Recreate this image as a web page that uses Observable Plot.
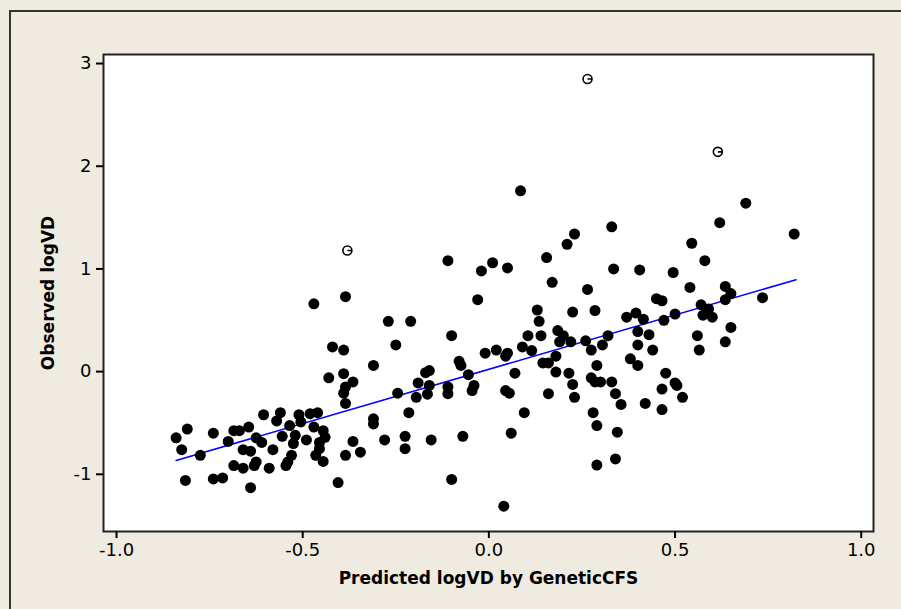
<!DOCTYPE html>
<html>
<head>
<meta charset="utf-8">
<script src="https://cdn.jsdelivr.net/npm/d3@7"></script>
<script src="https://cdn.jsdelivr.net/npm/@observablehq/plot@0.6"></script>
<style>
  html, body { margin: 0; padding: 0; background: #EFEBE1; }
  #wrap { position: relative; width: 901px; height: 609px; overflow: hidden; background: #EFEBE1; }
  #outer { position: absolute; left: 9px; top: 10px; width: 1000px; height: 1000px; border: 2px solid #333; box-sizing: border-box; }
  #chart { position: absolute; left: 0; top: 0; }
  #chart g[aria-label="x-axis label"] text,
  #chart g[aria-label="y-axis label"] text { font-weight: bold; font-size: 17px; }
</style>
</head>
<body>
<div id="wrap"><div id="outer"></div><div id="chart"></div></div>
<script>
// Predicted logVD by GeneticCFS (x) and observed logVD (y)
const predicted = [
  -0.47,-0.385,-0.27,-0.21,-0.11,-0.02,0.01,-0.03,-0.10,-0.42,-0.39,-0.25,-0.31,-0.01,0.02,-0.08,-0.075,-0.16,-0.17,-0.055,-0.43,-0.39,
  0.69,0.62,0.82,0.33,0.23,0.21,0.545,0.155,0.05,0.335,0.405,0.495,0.58,0.17,0.265,0.54,0.635,0.65,0.635,0.735,0.45,0.465,0.57,0.59,
  0.575,0.60,0.50,0.47,0.37,0.395,0.415,0.13,0.135,0.225,0.285,0.40,0.43,0.65,0.56,0.565,0.635,0.40,0.44,0.32,0.305,0.26,0.275,0.22,
  0.185,0.20,0.19,0.14,0.105,0.09,0.115,0.05,0.045,0.18,0.145,0.16,0.29,0.38,0.40,0.07,0.18,0.215,0.475,0.275,0.085,
  0.225,0.285,0.30,0.33,0.50,0.505,0.16,0.23,0.465,0.34,0.355,0.42,0.465,0.52,0.28,0.29,0.345,0.34,0.29,
  -0.365,-0.19,-0.16,-0.165,-0.195,-0.11,-0.11,-0.04,-0.045,0.045,0.055,-0.245,-0.31,-0.31,-0.215,0.095,0.06,-0.07,-0.155,-0.225,-0.225,-0.28,-0.365,-0.345,-0.10,0.04,
  -0.385,-0.39,-0.385,-0.84,-0.81,-0.825,-0.775,-0.74,-0.815,-0.74,-0.715,-0.70,-0.685,-0.67,-0.645,-0.605,-0.56,-0.57,-0.625,-0.61,
  -0.66,-0.64,-0.625,-0.63,-0.685,-0.66,-0.59,-0.58,-0.555,-0.535,-0.51,-0.505,-0.48,-0.46,-0.52,-0.525,-0.49,-0.47,-0.445,-0.44,
  -0.455,-0.455,-0.465,-0.53,-0.54,-0.545,-0.445,-0.64,-0.405,-0.385
];
const observed = [
  0.66,0.73,0.49,0.49,1.08,0.98,1.06,0.70,0.35,0.24,0.21,0.26,0.06,0.18,0.21,0.10,0.06,0.01,-0.01,-0.03,-0.06,-0.02,
  1.64,1.45,1.34,1.41,1.34,1.24,1.25,1.11,1.01,1.00,0.99,0.965,1.08,0.87,0.80,0.82,0.83,0.76,0.70,0.72,0.71,0.69,0.65,0.61,
  0.55,0.53,0.56,0.50,0.53,0.57,0.51,0.60,0.49,0.58,0.595,0.39,0.36,0.43,0.35,0.21,0.29,0.26,0.21,0.35,0.26,0.30,0.21,0.29,
  0.40,0.35,0.29,0.35,0.35,0.24,0.205,0.18,0.15,0.15,0.085,0.085,0.06,0.125,0.06,-0.015,-0.005,-0.015,-0.015,-0.06,1.76,
  -0.125,-0.10,-0.10,-0.10,-0.11,-0.135,-0.215,-0.25,-0.17,-0.215,-0.32,-0.31,-0.37,-0.25,-0.40,-0.525,-0.59,-0.85,-0.91,
  -0.10,-0.11,-0.135,-0.22,-0.25,-0.15,-0.215,-0.135,-0.185,-0.185,-0.21,-0.21,-0.46,-0.51,-0.40,-0.40,-0.60,-0.63,-0.665,-0.63,-0.75,-0.665,-0.68,-0.785,-1.05,-1.31,
  -0.15,-0.21,-0.31,-0.645,-0.56,-0.76,-0.815,-0.60,-1.06,-1.045,-1.035,-0.68,-0.575,-0.575,-0.54,-0.42,-0.40,-0.48,-0.645,-0.69,
  -0.76,-0.775,-0.88,-0.915,-0.915,-0.94,-0.94,-0.76,-0.63,-0.525,-0.42,-0.49,-0.41,-0.40,-0.62,-0.70,-0.665,-0.54,-0.575,-0.64,
  -0.69,-0.75,-0.815,-0.815,-0.88,-0.915,-0.875,-1.13,-1.08,-0.815
];
// Unusual observations (open symbols)
const outlierPredicted = [-0.38, 0.265, 0.615];
const outlierObserved = [1.18, 2.85, 2.14];
// Fitted line end points
const fitPredicted = [-0.84, 0.825];
const fitObserved = [-0.865, 0.895];
// Axes
const xTicks = [-1.0, -0.5, 0.0, 0.5, 1.0];
const yTicks = [-1, 0, 1, 2, 3];
const xLabel = "Predicted logVD by GeneticCFS";
const yLabel = "Observed logVD";

const points = predicted.map((p, i) => ({p, o: observed[i]}));
const outliers = outlierPredicted.map((p, i) => ({p, o: outlierObserved[i]}));
const fit = fitPredicted.map((p, i) => ({p, o: fitObserved[i]}));

const outlierSymbol = {
  draw(ctx, size) {
    const r = Math.sqrt(size / Math.PI);
    ctx.moveTo(r, 0);
    ctx.arc(0, 0, r, 0, 2 * Math.PI);
    ctx.moveTo(0, 0);
    ctx.lineTo(r, 0);
  }
};

const chart = Plot.plot({
  width: 901,
  height: 609,
  marginLeft: 103,
  marginRight: 28,
  marginTop: 54,
  marginBottom: 78,
  style: {background: "transparent", fontFamily: "DejaVu Sans", fontSize: "18px", color: "#000"},
  x: {domain: [-1.035, 1.033]},
  y: {domain: [-1.557, 3.088]},
  marks: [
    Plot.frame({fill: "white", stroke: "none"}),
    Plot.line(fit, {x: "p", y: "o", stroke: "#0000ff", strokeWidth: 1.5}),
    Plot.dot(points, {x: "p", y: "o", r: 5.5, fill: "#000", stroke: "none"}),
    Plot.dot(outliers, {x: "p", y: "o", r: 4.5, symbol: outlierSymbol, fill: "none", stroke: "#000", strokeWidth: 1.6}),
    Plot.frame({stroke: "#222", strokeWidth: 2}),
    Plot.axisX({ticks: xTicks, tickFormat: d => d.toFixed(1), tickSize: 7, tickPadding: 5, strokeWidth: 2,
      label: xLabel, labelAnchor: "center", labelArrow: "none", labelOffset: 52}),
    Plot.axisY({ticks: yTicks, tickFormat: d => String(d), tickSize: 7, tickPadding: 5, strokeWidth: 2,
      label: yLabel, labelAnchor: "center", labelArrow: "none", labelOffset: 62})
  ]
});
document.getElementById("chart").appendChild(chart);
</script>
</body>
</html>
